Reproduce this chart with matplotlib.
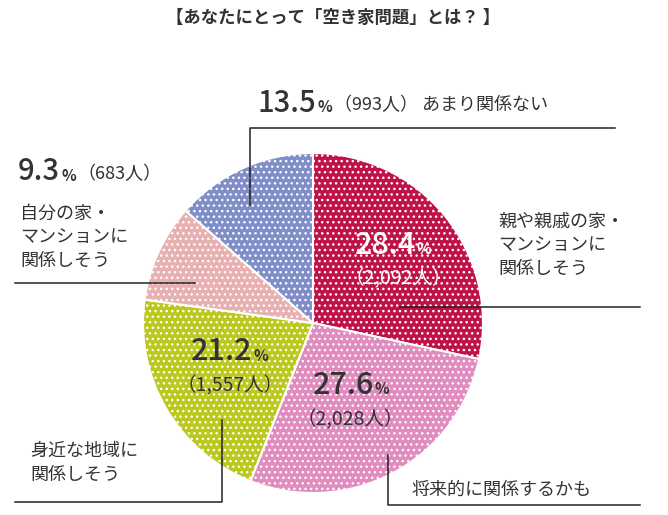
import matplotlib
matplotlib.use("Agg")
import matplotlib.pyplot as plt

plt.rcParams["font.family"] = ["Noto Sans CJK JP", "DejaVu Sans"]
plt.rcParams["hatch.color"] = (1, 1, 1, 0.3)
plt.rcParams["hatch.linewidth"] = 1.0

labels = ["親や親戚の家・\nマンションに\n関係しそう", "将来的に関係するかも", "身近な地域に\n関係しそう",
          "自分の家・\nマンションに\n関係しそう", "あまり関係ない"]
shares = [28.4, 27.6, 21.2, 9.3, 13.5]
counts = ["2,092", "2,028", "1,557", "683", "993"]
colors = ["#bf1248", "#e08cbf", "#bcc81e", "#e8b0b0", "#7f8ec8"]

W, H = 668, 515
fig = plt.figure(figsize=(W / 100, H / 100), dpi=100)
ax = fig.add_axes([0, 0, 1, 1])

wedges, _ = ax.pie(shares, colors=colors, startangle=-90, counterclock=True,
                   center=(313, 323), radius=170, frame=True,
                   wedgeprops=dict(edgecolor="white", linewidth=1.5))
for w in wedges:
    w.set_hatch("...")
ax.set_xlim(0, W)
ax.set_ylim(H, 0)
ax.set_aspect("equal")
ax.axis("off")

dark = "#333333"
ax.text(333, 18, "【あなたにとって「空き家問題」とは？ 】", ha="center", va="center",
        fontsize=12.5, fontweight="bold", color=dark)


def pct(x, y, i, color, big=22, small=11, center=True):
    t = ax.text(x, y, f"{shares[i]}", ha="center" if center else "left", va="center",
                fontsize=big, fontweight="medium", color=color)
    fig.canvas.draw()
    bb = t.get_window_extent()
    ax.text(bb.x1 + 1, y + 4, "%", ha="left", va="center", fontsize=small,
            fontweight="bold", color=color)
    return bb


# inside labels
pct(385, 245, 0, "white")
ax.text(398, 279, f"（{counts[0]}人）", ha="center", va="center", fontsize=14, color="white")
pct(343, 385, 1, dark)
ax.text(350, 420, f"（{counts[1]}人）", ha="center", va="center", fontsize=14, color=dark)
pct(222, 352, 2, dark)
ax.text(230, 386, f"（{counts[2]}人）", ha="center", va="center", fontsize=14, color=dark)

# outside labels
bb = pct(258, 103, 4, dark, big=21, center=False)
ax.text(bb.x1 + 17, 105, f"（{counts[4]}人） {labels[4]}", ha="left", va="center",
        fontsize=13, color=dark)
bb = pct(18, 172, 3, dark, big=21, center=False)
ax.text(bb.x1 + 17, 174, f"（{counts[3]}人）", ha="left", va="center", fontsize=13, color=dark)
ax.text(20, 237, labels[3], ha="left", va="center", fontsize=13, color=dark, linespacing=1.4)
ax.text(498, 245, labels[0], ha="left", va="center", fontsize=13, color=dark, linespacing=1.4)
ax.text(30, 463, labels[2], ha="left", va="center", fontsize=13, color=dark, linespacing=1.4)
ax.text(412, 490, labels[1], ha="left", va="center", fontsize=13, color=dark)

lk = dict(color="#222222", linewidth=1.1)
ax.plot([250, 250, 615], [205, 128, 128], **lk)
ax.plot([15, 195], [283, 283], **lk)
ax.plot([400, 640], [307, 307], **lk)
ax.plot([15, 222, 222], [502, 502, 420], **lk)
ax.plot([388, 388, 640], [455, 505, 505], **lk)

fig.savefig("out.png", dpi=100)
